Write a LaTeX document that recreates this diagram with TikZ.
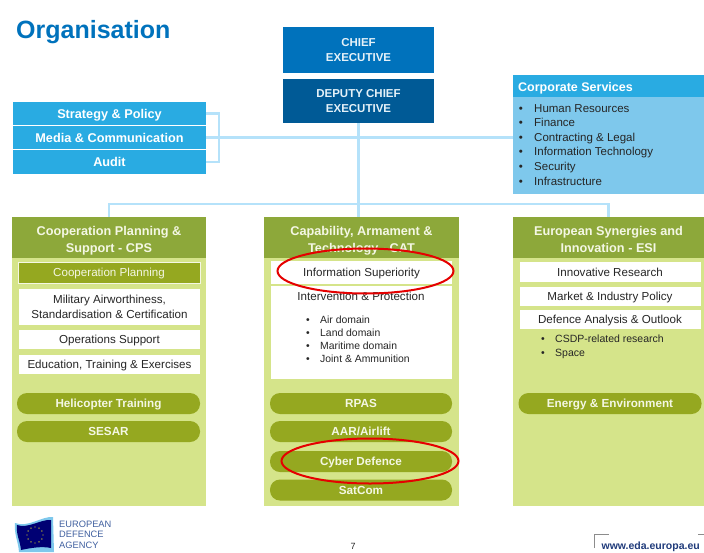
\documentclass[tikz,border=0pt]{standalone}
\usepackage{fontspec}
\setmainfont{Liberation Sans}
\usetikzlibrary{shapes.geometric}
\definecolor{edablue}{HTML}{0072BC}
\definecolor{edadark}{HTML}{005A96}
\definecolor{edasky}{HTML}{29ABE2}
\definecolor{edapale}{HTML}{7EC8EC}
\definecolor{edaline}{HTML}{B5E2FA}
\definecolor{edaolive}{HTML}{8DA83A}
\definecolor{edapill}{HTML}{95A820}
\definecolor{edalime}{HTML}{D5E48A}
\definecolor{edapaper}{HTML}{F4F7E4}
\definecolor{edalogo}{HTML}{3F5F9F}
\definecolor{edanavy}{HTML}{1F3A7A}
\newcommand{\px}[1]{\fontsize{#1}{1.1\dimexpr #1pt\relax}\selectfont}
\newcommand{\capstrut}{\rule[-0.28em]{0pt}{1.28em}}
\newcommand{\drop}[1]{\rule{0pt}{#1}}
\begin{document}
\begin{tikzpicture}[x=1pt,y=-1pt,inner sep=0pt,
    every node/.style={text=black!85,execute at begin node=\capstrut,execute at end node=\capstrut},
    lines/.style={align=center,execute at begin node={},execute at end node={}},
    bluebox/.style={fill=edasky,text=white,font=\px{12.7}\bfseries,minimum width=193pt},
    headbox/.style={fill=#1,text=white!90!edablue,font=\px{11.5}\bfseries,minimum width=151pt,lines},
    column/.style={fill=edalime,minimum width=#1,minimum height=289pt},
    colhead/.style={fill=edaolive,text=edapaper,font=\px{12.7}\bfseries,minimum width=#1,minimum height=41pt,lines},
    item/.style={fill=white,font=\px{11.6},minimum width=#1},
    pill/.style={fill=edapill,text=edapaper,rounded corners=10pt,font=\px{11.7}\bfseries,minimum width=#1,minimum height=21pt},
    link/.style={draw=edaline,line width=2.5pt},
    ring/.style={ellipse,draw=red!90!black,line width=2pt}]
  \useasboundingbox (0,0) rectangle (704,552);
  \node[anchor=base west,text=edablue,font=\px{25}\bfseries] (title) at (16,38) {Organisation};

  % top of the chart
  \node[headbox=edablue,minimum height=46pt] (chief) at (358.5,50) {\drop{11pt}CHIEF\\[3pt]EXECUTIVE};
  \node[headbox=edadark,minimum height=44pt] (deputy) at (358.5,101) {\drop{11pt}DEPUTY CHIEF\\[3pt]EXECUTIVE};
  \node[bluebox,minimum height=23pt] (strategy) at (109.5,113.5) {Strategy \& Policy};
  \node[bluebox,minimum height=23pt] (media) at (109.5,137.5) {Media \& Communication};
  \node[bluebox,minimum height=24pt] (audit) at (109.5,162) {Audit};

  \node[fill=edapale,minimum width=191pt,minimum height=119pt] (corporate) at (608.5,134.5) {};
  \node[fill=edasky,minimum width=191pt,minimum height=22pt] (corphead) at (608.5,86) {};
  \node[anchor=west,text=white,font=\px{12.5}\bfseries] (corptitle) at (518,86.5) {Corporate Services};
  \foreach \i/\y/\t in {1/108/Human Resources,2/122.5/Finance,3/137.5/Contracting \& Legal,
      4/151/Information Technology,5/166/Security,6/181/Infrastructure} {
    \node[anchor=west,font=\px{11.5}] (cs\i) at (534,\y) {\t};
    \node[font=\px{11.5}] (csdot\i) at (521,\y) {•};
  }

  % directorates
  \node[column=194pt] (cps) at (109,361.5) {};
  \node[column=195pt] (cat) at (361.5,361.5) {};
  \node[column=191pt] (esi) at (608.5,361.5) {};
  \node[colhead=194pt] (cpshead) at (109,237.5) {\drop{16pt}Cooperation Planning \&\\[3pt]Support - CPS};
  \node[colhead=195pt] (cathead) at (361.5,237.5) {\drop{16pt}Capability, Armament \&\\[3pt]Technology - CAT};
  \node[colhead=191pt] (esihead) at (608.5,237.5) {\drop{16pt}European Synergies and\\[3pt]Innovation - ESI};

  \node[fill=edapill,draw=edapaper,text=edapaper,font=\px{11.6},minimum width=182pt,minimum height=21pt] (planning) at (109,272.5) {Cooperation Planning};
  \node[item=181pt,minimum height=36pt,lines] (airworth) at (109.5,307) {\drop{11pt}Military Airworthiness,\\[3pt]Standardisation \& Certification};
  \node[item=181pt,minimum height=19pt] (opsupport) at (109.5,339.5) {Operations Support};
  \node[item=181pt,minimum height=19pt] (training) at (109.5,364.5) {Education, Training \& Exercises};
  \node[pill=183pt] (heli) at (108.5,403.5) {Helicopter Training};
  \node[pill=183pt] (sesar) at (108.5,431.5) {SESAR};

  \node[item=181pt,minimum height=23pt] (infosup) at (361.5,272.5) {Information Superiority};
  \node[item=181pt,minimum height=93pt] (intervention) at (361.5,332.5) {};
  \node[font=\px{11.6}] (intertitle) at (361,296) {Intervention \& Protection};
  \foreach \i/\y/\t in {1/320/Air domain,2/333/Land domain,3/346/Maritime domain,4/359/Joint \& Ammunition} {
    \node[anchor=west,font=\px{10.4}] (ip\i) at (320,\y) {\t};
    \node[font=\px{10.4}] (ipdot\i) at (308,\y) {•};
  }
  \node[pill=182pt] (rpas) at (361,403.5) {RPAS};
  \node[pill=182pt] (aar) at (361,431.5) {AAR/Airlift};
  \node[pill=182pt] (cyber) at (361,461.5) {Cyber Defence};
  \node[pill=182pt] (satcom) at (361,490) {SatCom};

  \node[item=181pt,minimum height=20pt] (innovative) at (610,272) {Innovative Research};
  \node[item=181pt,minimum height=19pt] (market) at (610,296.5) {Market \& Industry Policy};
  \node[item=181pt,minimum height=19pt] (analysis) at (610,319.5) {Defence Analysis \& Outlook};
  \foreach \i/\y/\t in {1/339/CSDP-related research,2/353/Space} {
    \node[anchor=west,font=\px{10.5}] (csdp\i) at (555,\y) {\t};
    \node[font=\px{10.5}] (csdpdot\i) at (543,\y) {•};
  }
  \node[pill=183pt] (energy) at (610,403.5) {Energy \& Environment};

  % connectors
  \coordinate (cpsbus) at (cps.north |- 0,204);
  \coordinate (esibus) at (esi.north |- 0,204);
  \coordinate (bracket) at (219,138);
  \draw[link] (strategy.east) -| (bracket) |- (audit.east);
  \draw[link] (media.east) -- (media.east -| corporate.west);
  \draw[link] (deputy.south) -- (deputy.south |- cathead.north);
  \draw[link] (cpshead.north) |- (cpsbus) -- (esibus) -- (esihead.north);

  % highlights
  \node[ring,minimum width=176pt,minimum height=45pt] (ringinfo) at (365.5,271) {};
  \node[ring,minimum width=177pt,minimum height=45pt] (ringcyber) at (370,461) {};

  % footer
  \fill[edapale] (15,523) .. controls (28,528) and (42,516) .. (53,517) -- (54,552) -- (19,552) .. controls (18,540) and (14,535) .. (15,523) -- cycle;
  \fill[blue!45!black] (17,525) .. controls (28,529) and (41,519) .. (51,520) -- (51,548) .. controls (42,546) and (30,548) .. (21,550) .. controls (20,540) and (16,535) .. (17,525) -- cycle;
  \foreach \a in {0,30,...,330}
    \fill[yellow!80!black] (35,535) ++(\a:8pt) circle (0.7pt);
  \node[anchor=west,text=edalogo,font=\px{9.3},lines,align=left] (agency) at (59,536) {EUROPEAN\\[0.5pt]DEFENCE\\[0.5pt]AGENCY};
  \node[font=\px{9}] (pagenum) at (353,546) {7};
  \node[anchor=base east,text=edanavy,font=\px{10.5}\bfseries] (website) at (700,549) {www.eda.europa.eu};
  \draw[black!45,line width=0.8pt] (594,548) |- (609,534);
  \draw[black!45,line width=0.8pt] (698,534) -- (704,534);
\end{tikzpicture}
\end{document}
